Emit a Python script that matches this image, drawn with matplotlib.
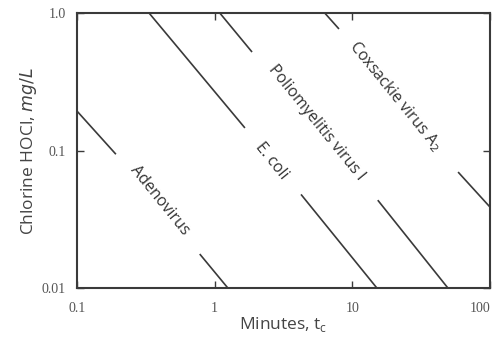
import matplotlib
matplotlib.use("Agg")
import matplotlib.pyplot as plt
from matplotlib.ticker import FixedLocator, NullLocator

# Data: each organism line drawn as two segments (gap for the label)
organisms = ["Adenovirus", "E. coli", "Poliomyelitis virus I", "Coxsackie virus A$_2$"]
seg1_t = [[0.10, 0.192], [0.334, 1.66], [1.09, 1.87], [6.3, 8.0]]
seg1_c = [[0.194, 0.094], [1.0, 0.146], [1.0, 0.52], [1.0, 0.765]]
seg2_t = [[0.78, 1.25], [4.24, 15.1], [15.3, 49.5], [58.6, 100.0]]
seg2_c = [[0.0177, 0.01], [0.048, 0.01], [0.0436, 0.01], [0.0698, 0.0388]]
label_t = [0.40, 2.6, 5.45, 20.4]
label_c = [0.0436, 0.084, 0.158, 0.249]

x_ticks = [0.1, 1, 10, 100]
x_ticklabels = ["0.1", "1", "10", "100"]
y_ticks = [0.01, 0.1, 1.0]
y_ticklabels = ["0.01", "0.1", "1.0"]

fig = plt.figure(figsize=(4.96, 3.41), dpi=100)
ax = fig.add_axes([0.155, 0.155, 0.833, 0.807])
ax.set_xscale("log")
ax.set_yscale("log")
ax.set_xlim(0.1, 100)
ax.set_ylim(0.01, 1.0)

lc = "#3a3a3a"
for i in range(len(organisms)):
    ax.plot(seg1_t[i], seg1_c[i], color=lc, lw=1.2, solid_capstyle="butt")
    ax.plot(seg2_t[i], seg2_c[i], color=lc, lw=1.2, solid_capstyle="butt")
    ax.text(label_t[i], label_c[i], organisms[i], rotation=-51,
            rotation_mode="anchor", ha="center", va="center",
            fontsize=11.5, family="Open Sans", color="#333333")

ax.xaxis.set_major_locator(FixedLocator(x_ticks))
ax.yaxis.set_major_locator(FixedLocator(y_ticks))
ax.xaxis.set_minor_locator(NullLocator())
ax.yaxis.set_minor_locator(NullLocator())
ax.set_xticklabels(x_ticklabels, family="Liberation Serif", fontsize=10, color="#555555")
ax.set_yticklabels(y_ticklabels, family="Liberation Serif", fontsize=10, color="#555555")
ax.tick_params(direction="in", length=5, width=1.0, color=lc,
               top=True, right=True)
ax.tick_params(axis="x", pad=10)
ax.tick_params(axis="y", pad=8)
ax.get_xticklabels()[-1].set_ha("right")

for s in ax.spines.values():
    s.set_color(lc)
    s.set_linewidth(1.5)

ax.set_xlabel("Minutes, t$_\\mathregular{c}$", family="Open Sans", fontsize=12.5,
              color="#444444", labelpad=0)
ax.set_ylabel("Chlorine HOCl, $\\mathit{mg/L}$", family="Open Sans", fontsize=12.5,
              color="#444444", labelpad=2)

fig.savefig("out.png", dpi=100, facecolor="white")
